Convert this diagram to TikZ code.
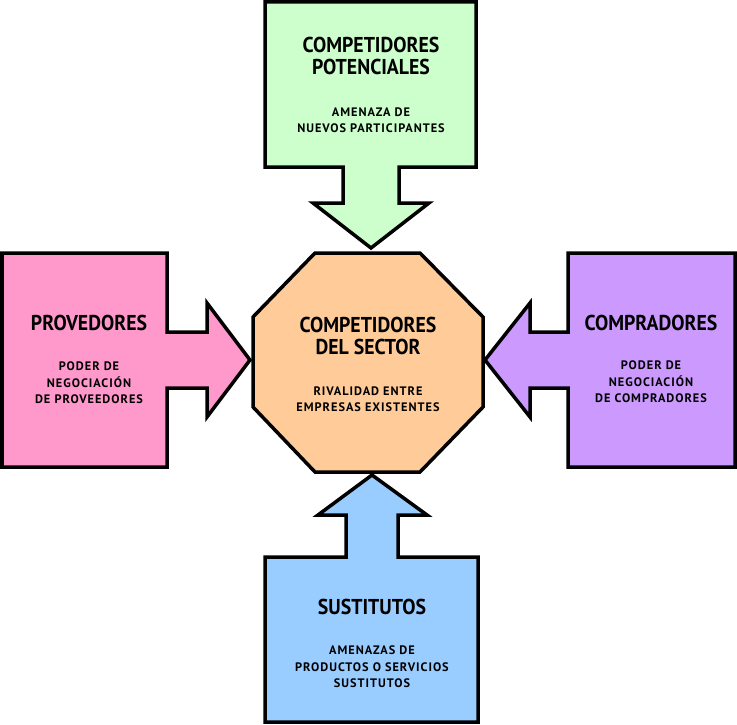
\documentclass[tikz,border=0pt]{standalone}
\usepackage{fontspec}
\usepackage{tikz}
\usepackage{xcolor}
\usetikzlibrary{
    calc,
    positioning
}
\newfontfamily\titlefont{PT Sans}[FakeStretch=0.92]
\newfontfamily\subfont{PT Sans}[LetterSpace=8]

\definecolor{verde}{HTML}{CCFFCC}
\definecolor{rosa}{HTML}{FF99CC}
\definecolor{naranja}{HTML}{FFCC99}
\definecolor{lila}{HTML}{CC99FF}
\definecolor{celeste}{HTML}{99CCFF}

\begin{document}
\begin{tikzpicture}[x=1pt, y=-1pt,
        forma/.style={draw=black, line width=3.5pt, line join=miter},
        titulo/.style={align=center, inner sep=0pt, font=\titlefont\bfseries\fontsize{21.5}{21.5}\selectfont},
        subtitulo/.style={align=center, inner sep=0pt, font=\subfont\bfseries\fontsize{12.3}{16.5}\selectfont}]
                        \useasboundingbox (0, 0) rectangle (737, 725);

                        % fuerzas
                        \draw[forma, fill=verde] (265, 2) -- (476, 2) -- (476, 167) -- (399, 167) -- (399, 203)
                            -- (429, 203) -- (371, 248) -- (313, 203) -- (343, 203) -- (343, 167) -- (265, 167) -- cycle;
                        \draw[forma, fill=rosa] (2, 253) -- (167, 253) -- (167, 332) -- (207, 332) -- (207, 303)
                            -- (250, 360) -- (207, 417) -- (207, 388) -- (167, 388) -- (167, 467) -- (2, 467) -- cycle;
                        \draw[forma, fill=lila] (735, 253) -- (568, 253) -- (568, 332) -- (530, 332) -- (530, 303)
                            -- (485, 360) -- (530, 417) -- (530, 388) -- (568, 388) -- (568, 467) -- (735, 467) -- cycle;
                        \draw[forma, fill=celeste] (265, 722) -- (478, 722) -- (478, 557) -- (398, 557) -- (398, 515)
                            -- (427, 515) -- (372, 475) -- (318, 515) -- (346, 515) -- (346, 557) -- (265, 557) -- cycle;

                        % sector
                        \draw[forma, fill=naranja] (315, 253) -- (420, 253) -- (483, 317) -- (483, 407)
                            -- (420, 472) -- (315, 472) -- (253, 407) -- (253, 317) -- cycle;

                        \node[titulo] (potenciales) at (371, 56) {COMPETIDORES\\POTENCIALES};
                        \node[subtitulo] (amenaza) at (371, 120) {AMENAZA DE\\NUEVOS PARTICIPANTES};
                        \node[titulo] (proveedores) at (89, 323) {PROVEDORES};
                        \node[subtitulo] (poderprov) at (89, 383) {PODER DE\\NEGOCIACIÓN\\DE PROVEEDORES};
                        \node[titulo] (compradores) at (651, 323) {COMPRADORES};
                        \node[subtitulo] (podercomp) at (651, 382) {PODER DE\\NEGOCIACIÓN\\DE COMPRADORES};
                        \node[titulo] (sector) at (368, 336) {COMPETIDORES\\DEL SECTOR};
                        \node[subtitulo] (rivalidad) at (368, 399) {RIVALIDAD ENTRE\\EMPRESAS EXISTENTES};
                        \node[titulo] (sustitutos) at (372, 607) {SUSTITUTOS};
                        \node[subtitulo] (amenazas) at (372, 667) {AMENAZAS DE\\PRODUCTOS O SERVICIOS\\SUSTITUTOS};
                    \end{tikzpicture}
\end{document}
